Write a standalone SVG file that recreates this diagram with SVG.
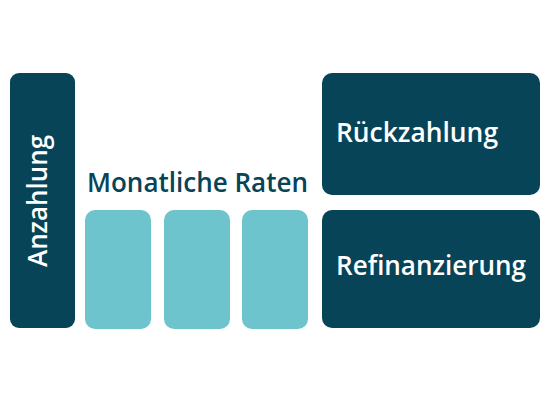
<svg xmlns="http://www.w3.org/2000/svg" width="549" height="413" viewBox="0 0 549 413">
<style>
.dark{fill:#074457}
.light{fill:#6dc4cc}
.wt{fill:#ffffff;font-family:"Open Sans","Liberation Sans",sans-serif;font-size:27px;font-weight:600}
.dt{fill:#074457;font-family:"Open Sans","Liberation Sans",sans-serif;font-size:27px;font-weight:600}
</style>
<rect width="549" height="413" fill="#ffffff"/>
<g id="anzahlung">
<rect class="dark" x="10" y="73" width="65" height="255" rx="9"/>
<text class="wt" transform="translate(47,267) rotate(-90)" textLength="132" lengthAdjust="spacingAndGlyphs">Anzahlung</text>
</g>
<g id="monatliche-raten">
<text class="dt" x="87" y="192" textLength="221" lengthAdjust="spacingAndGlyphs">Monatliche Raten</text>
</g>
<g id="rate1"><rect class="light" x="85" y="210" width="66" height="119" rx="10"/></g>
<g id="rate2"><rect class="light" x="164" y="210" width="66" height="119" rx="10"/></g>
<g id="rate3"><rect class="light" x="242" y="210" width="66" height="119" rx="10"/></g>
<g id="rueckzahlung">
<rect class="dark" x="322" y="73" width="218" height="122" rx="10"/>
<text class="wt" x="336" y="142" textLength="162" lengthAdjust="spacingAndGlyphs">Rückzahlung</text>
</g>
<g id="refinanzierung">
<rect class="dark" x="322" y="210" width="218" height="118" rx="10"/>
<text class="wt" x="336" y="275" textLength="190" lengthAdjust="spacingAndGlyphs">Refinanzierung</text>
</g>
<g id="connectors"/>
</svg>
